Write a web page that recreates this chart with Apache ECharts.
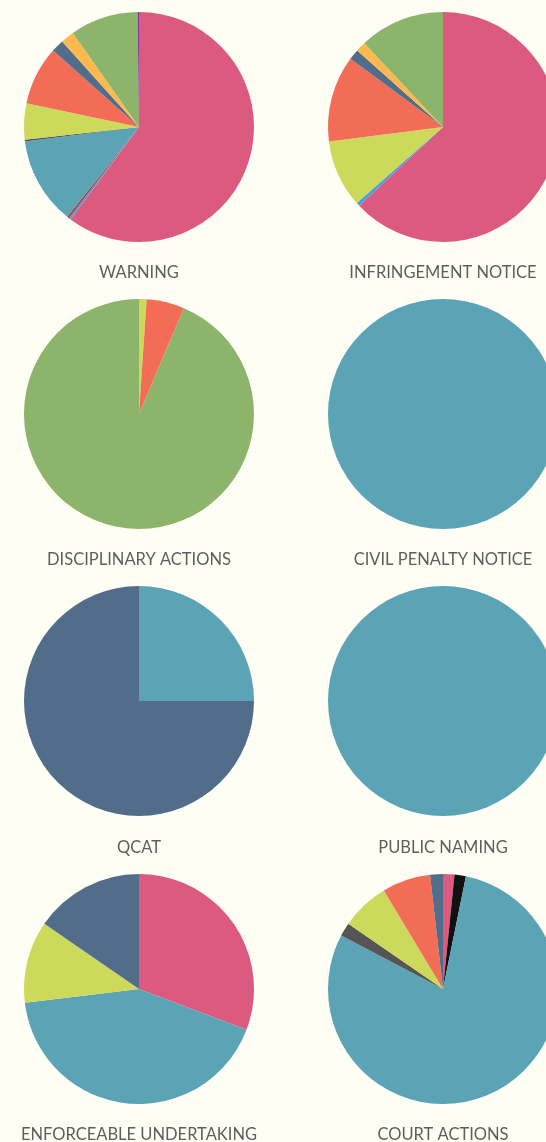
<!DOCTYPE html>
<html>
<head>
<meta charset="utf-8">
<script src="https://cdn.jsdelivr.net/npm/echarts@6/dist/echarts.min.js"></script>
<style>
html,body{margin:0;padding:0;background:#fffef5;}
#chart{width:546px;height:1142px;}
</style>
</head>
<body>
<div id="chart"></div>
<script>
// Categories (fixed order, clockwise from 12 o'clock)
const categories = ["Category 1","Category 2","Category 3","Category 4","Category 5","Category 6","Category 7","Category 8","Category 9","Category 10","Category 11","Category 12"];
const categoryColors = ["#dc5a80","#4d9fd8","#b5393a","#111111","#5ba4b6","#555555","#ccd95a","#f26c56","#516d8a","#fdb94f","#8cb56b","#7b3aa0"];

const chartTitles = ["WARNING","INFRINGEMENT NOTICE","DISCIPLINARY ACTIONS","CIVIL PENALTY NOTICE","QCAT","PUBLIC NAMING","ENFORCEABLE UNDERTAKING","COURT ACTIONS"];

const warning          = [60.4, 0.3, 0.3, 0,   12.3, 0.25, 5.1, 8.3, 1.8, 1.9, 9.6, 0.2];
const infringement     = [63,   0.5, 0,   0,   0,    0,    9.5, 12.1, 1.5, 1.4, 12, 0];
const disciplinary     = [0,    0,   0,   0,   0,    0,    1,   5,   0,   0,   88, 0];
const civilPenalty     = [0,    0,   0,   0,   1,    0,    0,   0,   0,   0,   0,  0];
const qcat             = [0,    0,   0,   0,   1,    0,    0,   0,   3,   0,   0,  0];
const publicNaming     = [0,    0,   0,   0,   1,    0,    0,   0,   0,   0,   0,  0];
const enforceable      = [8,    0,   0,   0,   11,   0,    3,   0,   4,   0,   0,  0];
const courtActions     = [1.6,  0,   0,   1.6, 79.5, 1.9,  6.8, 6.8, 1.8, 0,   0,  0];

const allValues = [warning, infringement, disciplinary, civilPenalty, qcat, publicNaming, enforceable, courtActions];

const colX = [139, 443];
const rowY = [127, 414, 701, 989];
const labelY = [271, 558, 846, 1133];

const series = [];
const titles = [];
allValues.forEach((vals, i) => {
  const col = i % 2, row = Math.floor(i / 2);
  const data = [];
  vals.forEach((v, k) => {
    if (v > 0) data.push({name: categories[k], value: v, itemStyle: {color: categoryColors[k]}});
  });
  series.push({
    type: 'pie',
    center: [colX[col], rowY[row]],
    radius: [0, 115],
    startAngle: 90,
    clockwise: true,
    label: {show: false},
    labelLine: {show: false},
    emphasis: {disabled: true},
    silent: true,
    animation: false,
    data: data
  });
  titles.push({
    text: chartTitles[i],
    left: colX[col],
    top: labelY[row] - 7,
    padding: 0,
    textAlign: 'center',
    textStyle: {fontFamily: 'Lato', fontSize: 16.5, fontWeight: 'normal', color: '#5e5e5e'}
  });
});

const chart = echarts.init(document.getElementById('chart'), null, {renderer: 'canvas'});
chart.setOption({
  backgroundColor: '#fffef5',
  animation: false,
  title: titles,
  series: series
});
</script>
</body>
</html>
